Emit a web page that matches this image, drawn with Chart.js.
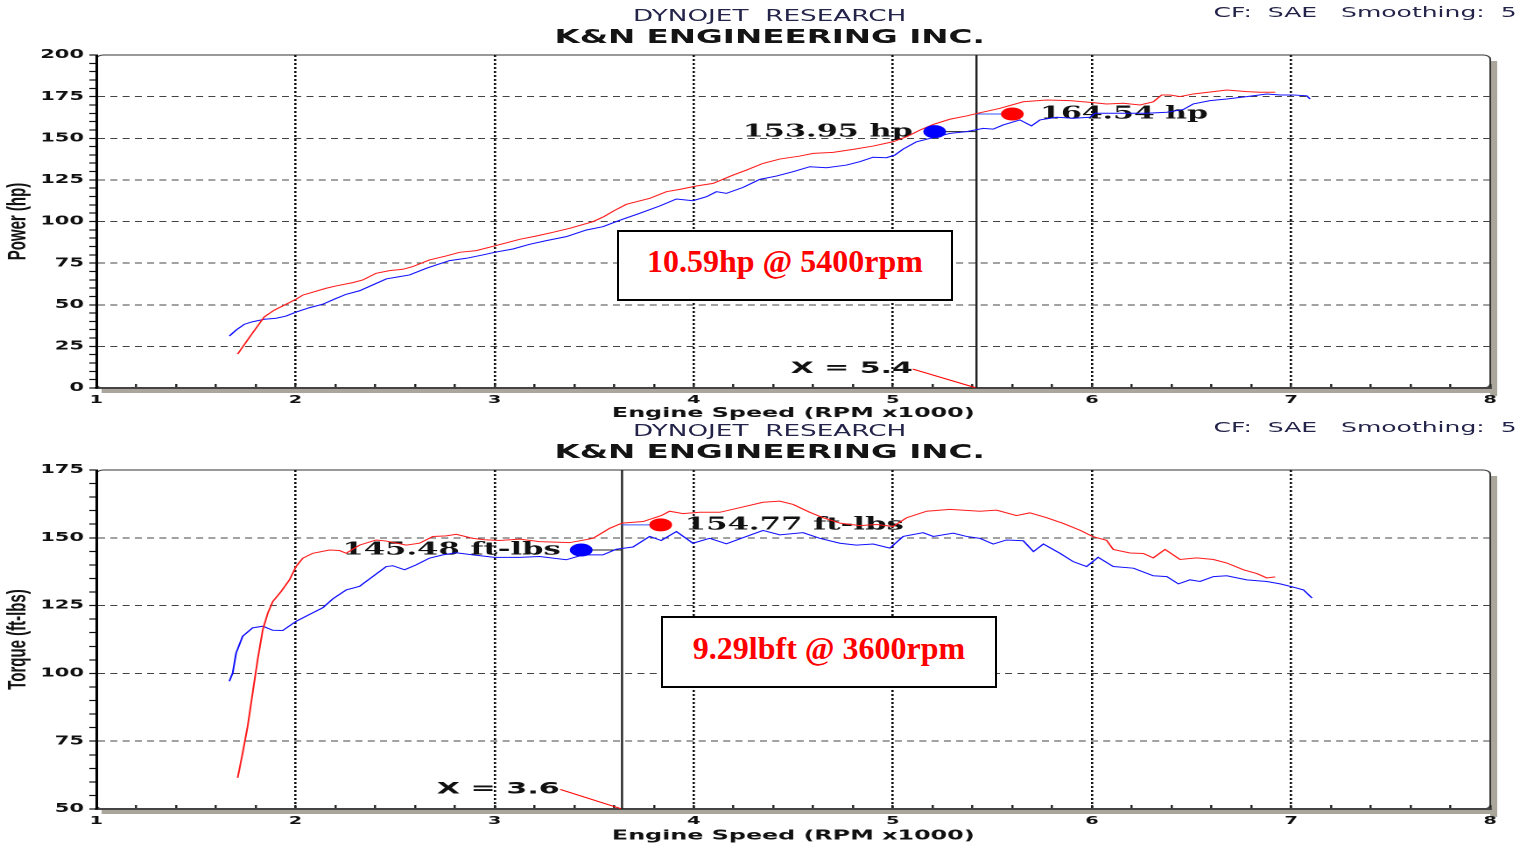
<!DOCTYPE html>
<html>
<head>
<meta charset="utf-8">
<script src="https://cdn.jsdelivr.net/npm/chart.js@4.4.1/dist/chart.umd.min.js"></script>
<style>
  html, body { margin: 0; padding: 0; background: #fff; }
  body { width: 1534px; height: 846px; position: relative; overflow: hidden; }
  .panel { position: absolute; left: 0; width: 1534px; overflow: hidden; }
  .stretch { position: absolute; left: 0; top: 0; width: 876px; transform-origin: 0 0; transform: scaleX(1.75114); }
  .stretch canvas { position: absolute; left: 0; top: 0; }
  .hdr { position: absolute; white-space: pre; line-height: 1; font-family: "DejaVu Sans"; }
  .h1 { left: 0; width: 879px; text-align: center; top: 9px; font-size: 15px; color: #24244a; }
  .h2 { left: 0; width: 879px; text-align: center; top: 28px; font-size: 18.6px; font-weight: bold; color: #141414; }
  .h3 { left: 693px; top: 5px; font-size: 14.3px; color: #24244a; }
  .rbox { position: absolute; box-sizing: border-box; border: 2px solid #000; background: #fff;
          text-align: center; white-space: nowrap; color: #ff0000;
          font: bold 32px "Liberation Serif"; line-height: 32px; }
</style>
</head>
<body>

<div class="panel" style="top:0;height:420px;">
  <div class="stretch" style="height:430px;">
    <div class="hdr h1">DYNOJET  RESEARCH</div>
    <div class="hdr h2">K&amp;N ENGINEERING INC.</div>
    <div class="hdr h3">CF:  SAE   Smoothing:  5</div>
    <canvas id="powerChart" width="876" height="430"></canvas>
  </div>
</div>

<div class="panel" style="top:415px;height:431px;">
  <div class="stretch" style="height:431px;">
    <div class="hdr h1">DYNOJET  RESEARCH</div>
    <div class="hdr h2">K&amp;N ENGINEERING INC.</div>
    <div class="hdr h3">CF:  SAE   Smoothing:  5</div>
    <canvas id="torqueChart" width="876" height="431"></canvas>
  </div>
</div>

<div class="rbox" style="left:617px;top:230px;width:336px;height:71px;padding-top:13px;">10.59hp @ 5400rpm</div>
<div class="rbox" style="left:661px;top:616px;width:336px;height:72px;padding-top:13.5px;">9.29lbft @ 3600rpm</div>

<script>
// tick labels
const rpmTicks = [1, 2, 3, 4, 5, 6, 7, 8];
const hpTicks = [0, 25, 50, 75, 100, 125, 150, 175, 200];
const tqTicks = [50, 75, 100, 125, 150, 175];

// power, red run (after)
const hpRedRpm = [1.71, 1.777, 1.844, 1.894, 2.003, 2.037, 2.154, 2.204, 2.288, 2.338, 2.405, 2.472, 2.539, 2.589,
  2.673, 2.757, 2.824, 2.908, 3.0, 3.126, 3.21, 3.293, 3.377, 3.494, 3.55, 3.6, 3.662, 3.779, 3.863, 3.93,
  4.013, 4.097, 4.198, 4.265, 4.348, 4.432, 4.533, 4.6, 4.7, 4.8, 4.901, 5.0, 5.069, 5.136, 5.203, 5.286,
  5.37, 5.437, 5.538, 5.655, 5.772, 5.889, 6.006, 6.073, 6.157, 6.241, 6.308, 6.35, 6.392, 6.442, 6.509,
  6.61, 6.677, 6.777, 6.844, 6.92];
const hpRed = [20.4, 31.8, 42.8, 46.8, 53.3, 55.8, 59.9, 61.3, 63.3, 64.9, 68.9, 70.5, 71.3, 72.9,
  76.9, 79.3, 81.5, 82.5, 85.3, 89.3, 91.3, 93.5, 95.9, 99.9, 103, 106.5, 110.3, 113.9, 117.9, 119.3,
  121.3, 122.9, 127.9, 130.9, 134.9, 137.5, 139.3, 140.9, 141.5, 143.3, 145.3, 147.9, 150.9, 154.9, 158.3, 161.4,
  163.4, 165.3, 168, 171.9, 173, 172.6, 171.4, 170.6, 171, 170, 171.9, 176, 176, 175, 176.6,
  178, 179, 178, 177.6, 177.6];

// power, blue run (before)
const hpBlueRpm = [1.668, 1.702, 1.744, 1.785, 1.844, 1.903, 1.953, 2.003, 2.07, 2.137, 2.204, 2.255, 2.322, 2.388,
  2.456, 2.523, 2.573, 2.657, 2.707, 2.774, 2.858, 2.941, 3.0, 3.092, 3.176, 3.26, 3.36, 3.461, 3.544, 3.628,
  3.729, 3.829, 3.913, 3.996, 4.064, 4.114, 4.164, 4.248, 4.332, 4.415, 4.499, 4.583, 4.667, 4.767, 4.834,
  4.901, 4.968, 5.01, 5.052, 5.119, 5.186, 5.22, 5.286, 5.37, 5.454, 5.504, 5.554, 5.638, 5.696, 5.739,
  5.822, 5.906, 5.99, 6.015, 6.107, 6.275, 6.376, 6.459, 6.509, 6.593, 6.677, 6.777, 6.878, 6.945, 7.012,
  7.079, 7.095];
const hpBlue = [31.2, 34.8, 38.3, 39.8, 41.3, 41.9, 43.2, 45.6, 48.2, 50.3, 53.8, 56.3, 58.4, 61.9,
  65.5, 66.9, 67.9, 71.9, 73.9, 76.5, 77.9, 79.9, 81.5, 83.5, 86.3, 88.5, 90.9, 94.9, 96.9, 100.7,
  104.9, 109.3, 113.5, 112.5, 114.9, 117.9, 116.9, 120.5, 125.3, 127.3, 129.9, 132.9, 132.3, 133.9, 135.9,
  138.6, 138.3, 139.9, 143.5, 147.9, 149.9, 150.9, 152.9, 154, 155.9, 155.5, 158, 161, 157.4, 161,
  162.6, 162, 162.6, 165, 165, 165, 165.6, 167.3, 170.6, 172.6, 173.6, 175, 176.6, 176, 176,
  175.5, 173.6];

// torque, red run (after)
const tqRedRpm = [1.71, 1.735, 1.76, 1.785, 1.81, 1.836, 1.861, 1.886, 1.928, 1.97, 2.003, 2.037, 2.087, 2.171,
  2.221, 2.255, 2.322, 2.405, 2.456, 2.556, 2.623, 2.69, 2.757, 2.807, 2.891, 2.95, 3.025, 3.126, 3.226,
  3.377, 3.494, 3.544, 3.578, 3.64, 3.746, 3.837, 3.879, 3.946, 4.03, 4.131, 4.231, 4.348, 4.432, 4.499,
  4.583, 4.65, 4.734, 4.834, 4.918, 5.001, 5.069, 5.17, 5.286, 5.437, 5.521, 5.621, 5.688, 5.772, 5.856,
  5.94, 6.006, 6.073, 6.107, 6.191, 6.258, 6.308, 6.367, 6.442, 6.526, 6.61, 6.677, 6.761, 6.828, 6.878, 6.92];
const tqRed = [61.5, 70.7, 80.5, 92.8, 105, 116.1, 122.2, 126.5, 130.2, 134.5, 139.4, 142.5, 144.3, 145.5,
  145.3, 144.3, 147.3, 149.2, 148.8, 147.3, 148, 150.5, 150.7, 151.3, 149.8, 149.3, 149, 149.5, 148.6,
  148.2, 149.8, 152, 153.5, 155.4, 156, 158.2, 159.8, 158.9, 159.4, 159.4, 161.1, 163.1, 163.5, 162.3,
  159.4, 157.4, 155.4, 154.5, 154.9, 154.2, 157.4, 159.8, 160.5, 159.8, 160.2, 158.2, 159.2, 157.4, 155.3,
  152.8, 150.4, 149.1, 145.7, 144.4, 144.2, 142.6, 145.7, 142, 142.6, 142, 140.7, 138.2, 136.8, 135.2, 135.6];

// torque, blue run (before)
const tqBlueRpm = [1.668, 1.685, 1.702, 1.735, 1.785, 1.836, 1.886, 1.936, 2.003, 2.07, 2.137, 2.188, 2.255, 2.322,
  2.388, 2.456, 2.489, 2.548, 2.606, 2.673, 2.74, 2.807, 2.891, 3.0, 3.126, 3.226, 3.36, 3.444, 3.544, 3.611,
  3.695, 3.779, 3.837, 3.913, 3.996, 4.08, 4.164, 4.265, 4.348, 4.432, 4.549, 4.633, 4.734, 4.817, 4.901,
  4.985, 5.052, 5.152, 5.203, 5.303, 5.37, 5.437, 5.504, 5.571, 5.655, 5.706, 5.756, 5.839, 5.906, 5.973,
  6.031, 6.107, 6.208, 6.308, 6.376, 6.434, 6.492, 6.543, 6.61, 6.677, 6.777, 6.878, 6.945, 7.012, 7.062, 7.105];
const tqBlue = [97.1, 100.2, 107.5, 113.7, 116.8, 117.4, 115.9, 115.8, 119.2, 121.7, 124.2, 127.5, 130.8, 132.1,
  135.7, 139.4, 139.7, 138.2, 140, 142.5, 143.7, 144.5, 143.7, 142.8, 142.8, 143.1, 141.9, 143.7, 143.7, 145.8,
  146.6, 150.5, 149, 152.3, 148, 149.8, 147.8, 150.5, 152.7, 151.1, 151.9, 149.8, 148, 147.3, 147.7,
  146.2, 150.5, 151.9, 150.5, 151.7, 150.5, 149.8, 147.7, 149.2, 148.9, 144.9, 147.7, 144.3, 141.2, 139.4,
  142.8, 139.4, 138.8, 136, 135.7, 133, 134.5, 133.9, 135.7, 136, 134.5, 133.9, 133, 131.8, 130.8, 127.8];

// cursor readouts: [blue, red]
const hpCursor = 5.42;
const hpReadout = [153.95, 164.54];
const tqCursor = 3.64;
const tqReadout = [145.48, 154.77];

const pts = (xs, ys) => xs.map((x, i) => ({ x, y: ys[i] }));
const clear = 'rgba(0,0,0,0)';

function fitText(ctx, text, x, y, w, font, color) {
  ctx.save();
  ctx.font = font;
  const m = ctx.measureText(text).width;
  ctx.translate(x, y);
  ctx.scale(w / m, 1);
  ctx.textAlign = 'left';
  ctx.textBaseline = 'middle';
  ctx.fillStyle = color;
  ctx.fillText(text, 0, 0);
  ctx.restore();
}

// frame, shadow and readout labels
const dynoDecor = {
  id: 'dynoDecor',
  beforeDraw(chart) {
    const { ctx, chartArea: a } = chart;
    ctx.save();
    ctx.fillStyle = '#aba69b';
    ctx.fillRect(a.right, a.top + 6, 4, a.bottom - a.top + 2);
    ctx.fillRect(a.left + 3, a.bottom, a.right - a.left + 1, 5);
    ctx.strokeStyle = '#333';
    ctx.lineWidth = 1;
    ctx.beginPath();
    ctx.roundRect(a.left, a.top, a.right - a.left, a.bottom - a.top, 4);
    ctx.stroke();
    ctx.restore();
  },
  beforeDatasetsDraw(chart, args, opts) {
    const { ctx, scales: { x, y } } = chart;
    (opts.labels || []).forEach((l) => {
      const x0 = x.getPixelForValue(l.from);
      const x1 = x.getPixelForValue(l.to);
      fitText(ctx, l.text, x0, y.getPixelForValue(l.y), x1 - x0, l.font, '#111');
    });
  },
};

function dynoChart(id, c) {
  const line = (data, color, width) => ({ data, showLine: true, borderColor: color, borderWidth: width, pointRadius: 0 });
  const dot = (x, y, color) => ({ data: [{ x, y }], pointRadius: 6.5, pointBackgroundColor: color, pointBorderWidth: 0 });

  return new Chart(document.getElementById(id), {
    type: 'scatter',
    data: {
      datasets: [
        dot(c.dotRpm[0], c.readout[0], '#0000ff'),
        dot(c.dotRpm[1], c.readout[1], '#ff0000'),
        line(pts(c.redRpm, c.red), '#ff1c1c', 1),
        line(pts(c.blueRpm, c.blue), '#1010ff', 1),
        line([{ x: c.dotRpm[0], y: c.readout[0] }, { x: c.cursor, y: c.readout[0] }], '#222', 1),
        line([{ x: c.cursor, y: c.readout[1] }, { x: c.dotRpm[1], y: c.readout[1] }], '#3355ff', 1),
        line([{ x: c.cursor, y: c.yMin }, { x: c.cursor, y: c.yMax }], '#222', 1.2),
        line([c.pointer, { x: c.cursor, y: c.yMin }], '#ff0000', 1),
      ],
    },
    options: {
      responsive: false,
      animation: false,
      devicePixelRatio: 2,
      layout: { padding: { top: 55, right: 25, bottom: 0, left: 0 } },
      plugins: {
        legend: { display: false },
        tooltip: { enabled: false },
        dynoDecor: { labels: c.labels },
      },
      scales: {
        x: {
          type: 'linear', min: 1, max: 8,
          afterFit: (s) => { s.height = c.xHeight; },
          ticks: {
            stepSize: 0.2, maxTicksLimit: 100, autoSkip: false, maxRotation: 0, padding: 9.5,
            color: '#111', font: { family: 'DejaVu Sans', weight: 'bold', size: 11 },
            callback: (v) => (rpmTicks.includes(Math.round(v * 10) / 10) ? String(Math.round(v)) : ''),
          },
          grid: {
            color: (ctx) => {
              const v = ctx.tick ? Math.round(ctx.tick.value * 10) / 10 : 0;
              return Number.isInteger(v) && v > 1 && v < 8 ? '#111' : clear;
            },
            lineWidth: 1.3, tickLength: -4, tickColor: '#222', tickWidth: 1.2,
          },
          border: { color: '#444', width: 2, dash: [2, 2] },
          title: {
            display: true, text: 'Engine Speed (RPM x1000)', color: '#111',
            font: { family: 'DejaVu Sans', weight: 'bold', size: 13.6, lineHeight: 1.2 },
            padding: { top: 0, bottom: c.xTitlePad },
          },
        },
        y: {
          min: c.yMin, max: c.yMax,
          afterFit: (s) => { s.width = 55; },
          ticks: {
            stepSize: 5, maxTicksLimit: 100, autoSkip: false, padding: 3,
            color: '#111', font: { family: 'DejaVu Sans', weight: 'bold', size: 12 },
            callback: (v) => (c.yTicks.includes(v) ? String(v) : ''),
          },
          grid: {
            color: (ctx) => {
              const v = ctx.tick ? ctx.tick.value : c.yMin;
              return c.yTicks.includes(v) && v > c.yMin && v < c.yMax ? '#444' : clear;
            },
            lineWidth: 1, tickLength: 4, tickColor: '#111', tickWidth: 1.2,
          },
          border: { color: '#000', width: 1.5, dash: [4, 3] },
          title: {
            display: true, text: c.yTitle, color: '#111',
            font: { family: 'Liberation Sans', weight: 'bold', size: 15, lineHeight: 1.2 },
            padding: { top: 1.3, bottom: 0 },
          },
        },
      },
    },
    plugins: [dynoDecor],
  });
}

const labelFont = 'bold 18px "DejaVu Serif"';
const cursorFont = 'bold 16px "DejaVu Sans"';

dynoChart('powerChart', {
  yMin: 0, yMax: 200, yTicks: hpTicks, yTitle: 'Power (hp)',
  redRpm: hpRedRpm, red: hpRed, blueRpm: hpBlueRpm, blue: hpBlue,
  cursor: hpCursor, readout: hpReadout, dotRpm: [5.21, 5.6],
  pointer: { x: 5.1, y: 11.4 },
  xHeight: 42, xTitlePad: 8.3,
  labels: [
    { text: hpReadout[0].toFixed(2) + ' hp', from: 4.246, to: 5.1, y: hpReadout[0], font: labelFont },
    { text: hpReadout[1].toFixed(2) + ' hp', from: 5.739, to: 6.583, y: hpReadout[1], font: labelFont },
    { text: 'X = ' + hpCursor.toFixed(1), from: 4.487, to: 5.1, y: 11.4, font: cursorFont },
  ],
});

dynoChart('torqueChart', {
  yMin: 50, yMax: 175, yTicks: tqTicks, yTitle: 'Torque (ft-lbs)',
  redRpm: tqRedRpm, red: tqRed, blueRpm: tqBlueRpm, blue: tqBlue,
  cursor: tqCursor, readout: tqReadout, dotRpm: [3.435, 3.834],
  pointer: { x: 3.33, y: 57.2 },
  xHeight: 37, xTitlePad: 2,
  labels: [
    { text: tqReadout[0].toFixed(2) + ' ft-lbs', from: 2.236, to: 3.332, y: tqReadout[0], font: labelFont },
    { text: tqReadout[1].toFixed(2) + ' ft-lbs', from: 3.955, to: 5.055, y: tqReadout[1], font: labelFont },
    { text: 'X = ' + tqCursor.toFixed(1), from: 2.709, to: 3.327, y: 57.2, font: cursorFont },
  ],
});
</script>
</body>
</html>
